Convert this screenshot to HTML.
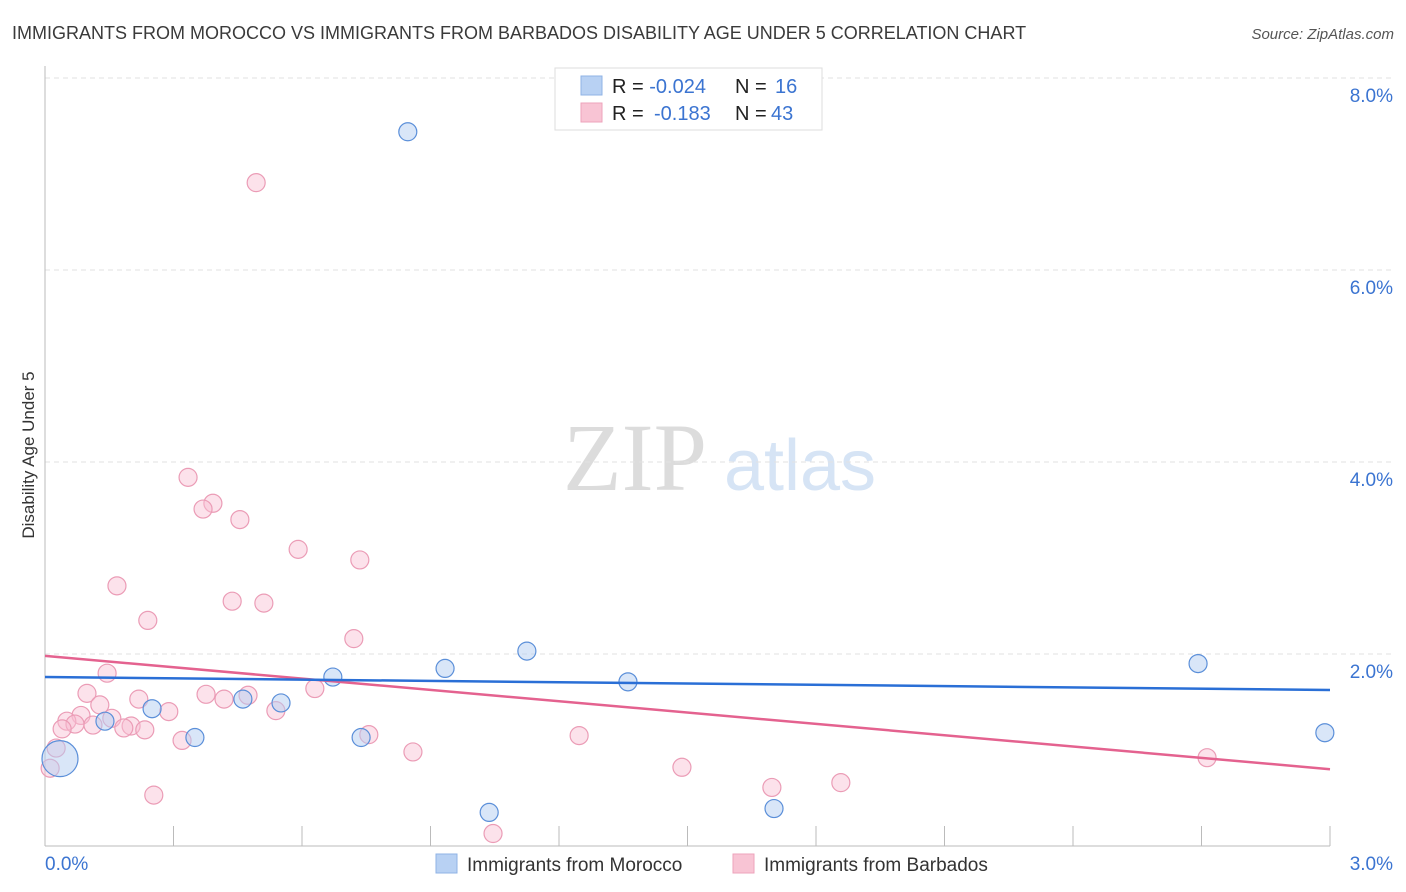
<!DOCTYPE html>
<html><head><meta charset="utf-8"><style>
body{margin:0;background:#fff;font-family:"Liberation Sans",sans-serif}
svg{display:block}
</style></head><body>
<svg id="c" width="1406" height="892">
<text x="12" y="39" font-size="18" fill="#3a3a3a">IMMIGRANTS FROM MOROCCO VS IMMIGRANTS FROM BARBADOS DISABILITY AGE UNDER 5 CORRELATION CHART</text>
<text x="1394" y="39" font-size="15" fill="#555" font-style="italic" text-anchor="end">Source: ZipAtlas.com</text>
<text x="34" y="455" font-size="17" fill="#333" text-anchor="middle" transform="rotate(-90 34 455)">Disability Age Under 5</text>
<g><text x="635" y="490" font-size="96" fill="#dcdcdc" font-family="Liberation Serif,serif" text-anchor="middle">ZIP</text><text x="800" y="490" font-size="72" fill="#d6e4f5" text-anchor="middle">atlas</text></g>
<g id="grid"></g><g id="marks"></g>
<g>
<rect x="555" y="68" width="267" height="62" fill="#fff" stroke="#ddd"/>
<rect x="581" y="76" width="21" height="19" fill="#b8d1f3" stroke="#8fb3e6"/>
<rect x="581" y="103" width="21" height="19" fill="#f8c4d4" stroke="#eea3bb"/>
<text x="612" y="93" font-size="20" fill="#222">R = <tspan fill="#3b74d1">-0.024</tspan><tspan x="735">N = </tspan><tspan x="775" fill="#3b74d1">16</tspan></text>
<text x="612" y="120" font-size="20" fill="#222">R = <tspan x="654" fill="#3b74d1">-0.183</tspan><tspan x="735">N = </tspan><tspan x="771" fill="#3b74d1">43</tspan></text>
</g>
<g>
<rect x="436" y="854" width="21" height="19" fill="#b8d1f3" stroke="#8fb3e6"/>
<text x="467" y="871" font-size="19" fill="#333">Immigrants from Morocco</text>
<rect x="733" y="854" width="21" height="19" fill="#f8c4d4" stroke="#eea3bb"/>
<text x="764" y="871" font-size="19" fill="#333">Immigrants from Barbados</text>
</g>
</svg>
<script>
const blueX=[0.847,0.250,0.140,0.350,0.462,0.551,0.672,0.738,0.934,1.125,1.361,1.037,1.702,2.692,2.988,0.035];
const blueY=[7.44,1.43,1.30,1.13,1.53,1.49,1.76,1.13,1.85,2.03,1.71,0.35,0.39,1.90,1.18,0.91];
const blueR=[9,9,9,9,9,9,9,9,9,9,9,9,9,9,9,18];
const pinkX=[0.493,0.334,0.392,0.369,0.455,0.591,0.735,0.168,0.240,0.437,0.511,0.721,0.145,0.098,0.219,0.376,0.474,0.418,0.630,0.539,0.289,0.128,0.084,0.156,0.051,0.070,0.112,0.201,0.184,0.233,0.040,0.320,0.756,1.247,0.859,0.026,0.012,0.254,1.487,1.697,1.858,1.046,2.713];
const pinkY=[6.91,3.84,3.57,3.51,3.40,3.09,2.98,2.71,2.35,2.55,2.53,2.16,1.80,1.59,1.53,1.58,1.57,1.53,1.64,1.41,1.40,1.47,1.36,1.33,1.30,1.27,1.26,1.25,1.23,1.21,1.22,1.10,1.16,1.15,0.98,1.02,0.81,0.53,0.82,0.61,0.66,0.13,0.92];
const blueTrend=[1.76,1.625];
const pinkTrend=[1.98,0.80];
const yTicks=[2,4,6,8];
const yTickLabels=["2.0%","4.0%","6.0%","8.0%"];
const xTickLabels=["0.0%","3.0%"];
const NS="http://www.w3.org/2000/svg";
const sx=v=>45+v/3*1285, sy=v=>846-v*96;
const grid=document.getElementById('grid'), marks=document.getElementById('marks');
function mk(tag,at,p){const e=document.createElementNS(NS,tag);for(const k in at)e.setAttribute(k,at[k]);p.appendChild(e);return e;}
yTicks.forEach((t,i)=>{
 const l=mk('line',{x1:45,x2:1392,y1:sy(t),y2:sy(t),stroke:'#e2e2e2','stroke-dasharray':'5,4'},grid);
 
 
 const tx=mk('text',{x:1393,y:sy(t)+24,'font-size':19,fill:'#3b74d1','text-anchor':'end'},grid);tx.textContent=yTickLabels[i];
 
 
});
const ax=mk('line',{x1:45,x2:45,y1:66,y2:846,stroke:'#bbb'},grid);


const bx=mk('line',{x1:45,x2:1330,y1:846,y2:846,stroke:'#bbb'},grid);


for(let i=1;i<=10;i++){const x=45+i*128.5;const t=mk('line',{x1:x,x2:x,y1:826,y2:846,stroke:'#bbb'},grid);
 
 }
xTickLabels.forEach((s,i)=>{const t=mk('text',{x:i?1393:45,y:870,'font-size':19,fill:'#3b74d1','text-anchor':i?'end':'start'},grid);t.textContent=s;
 
 });
pinkX.forEach((x,i)=>{const c=mk('circle',{cx:sx(x),cy:sy(pinkY[i]),r:9,fill:'rgba(248,190,210,0.45)',stroke:'#eb9cb6','stroke-width':1.2},marks);
 
 });
blueX.forEach((x,i)=>{const c=mk('circle',{cx:sx(x),cy:sy(blueY[i]),r:blueR[i],fill:'rgba(180,206,242,0.5)',stroke:'#5b8fd9','stroke-width':1.2},marks);
 
 });
const pl=mk('line',{x1:sx(0),x2:sx(3),y1:sy(pinkTrend[0]),y2:sy(pinkTrend[1]),stroke:'#e4628f','stroke-width':2.5},marks);


const bl=mk('line',{x1:sx(0),x2:sx(3),y1:sy(blueTrend[0]),y2:sy(blueTrend[1]),stroke:'#2a6fd6','stroke-width':2.5},marks);


</script>
</body></html>
